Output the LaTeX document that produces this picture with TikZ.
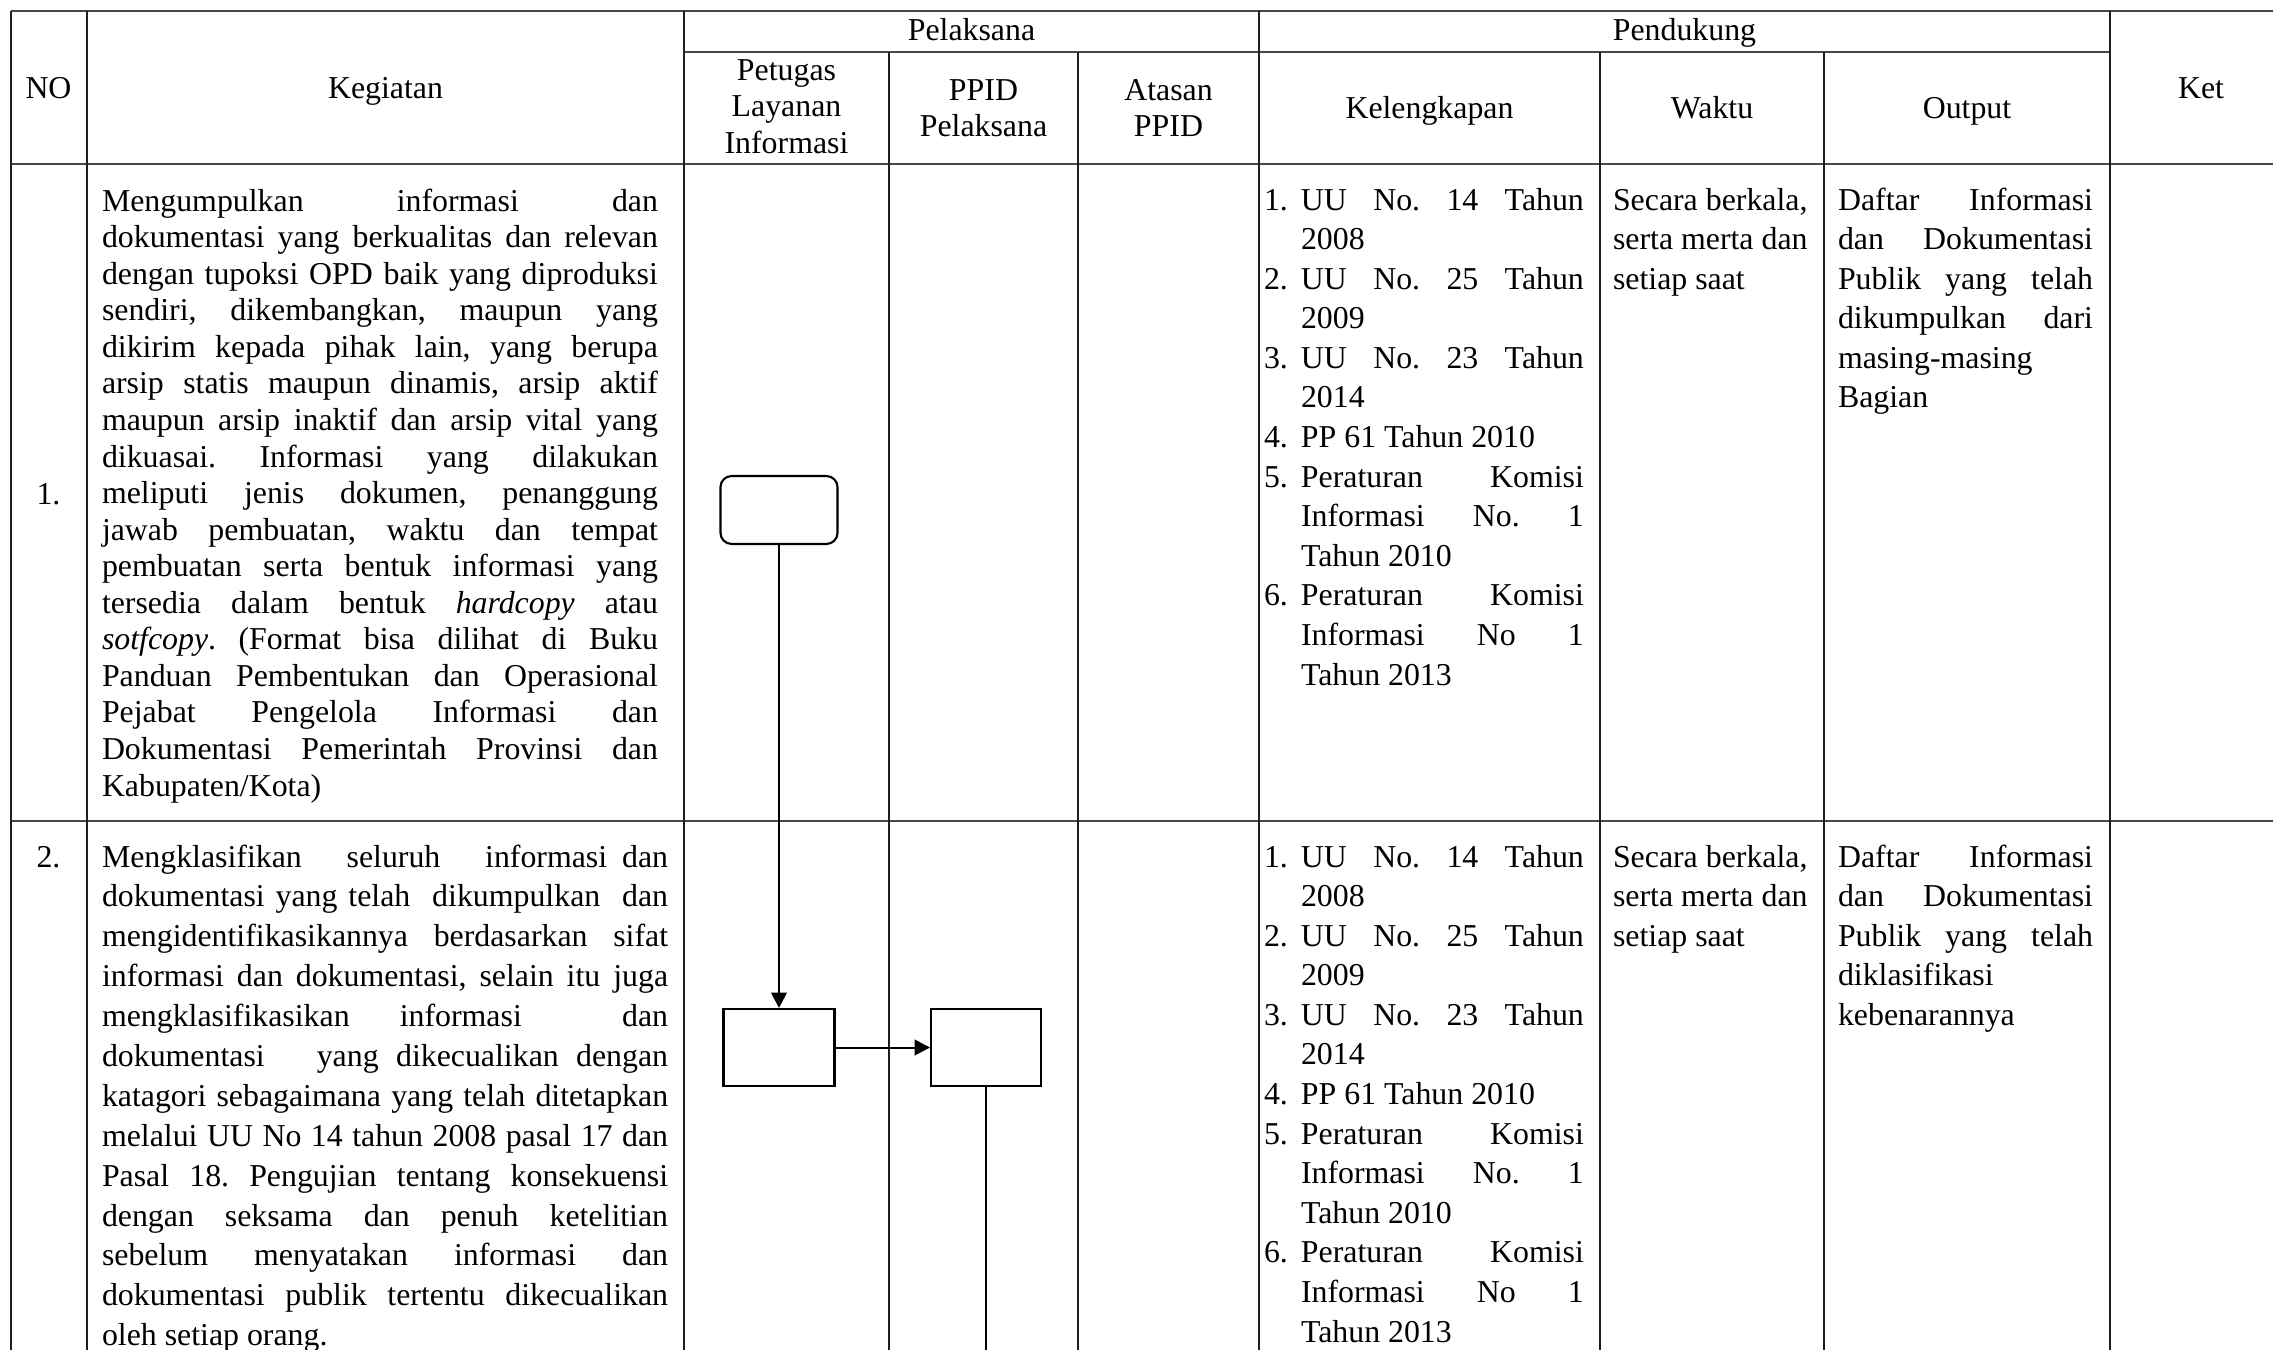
\documentclass[tikz,border=0pt]{standalone}
\usepackage{fontspec}
\setmainfont{Liberation Serif}[Ligatures={TeX,NoCommon}]
\usetikzlibrary{arrows.meta}
\newcommand\setsp{\spaceskip=0.25em plus 0.2em minus 0.08em\xspaceskip=0.25em plus 0.2em minus 0.08em\relax}
\newcommand\jline[1]{\makebox[\linewidth][s]{#1}}
\newcommand\kitem[2]{\makebox[13.94pt][l]{#1}\makebox[106.6pt][s]{#2}}
\newcommand\kplain[2]{\makebox[13.94pt][l]{#1}#2}
\newcommand\kcont[1]{\hspace*{13.94pt}#1}
\begin{document}
\begin{tikzpicture}[x=0.3768pt, y=-0.3768pt,
  hl/.style={draw=black!72, line width=0.7pt},
  vl/.style={draw=black!88, line width=0.45pt},
  txt/.style={inner sep=0pt, outer sep=0pt, text=black, font=\fontsize{12pt}{13.78pt}\selectfont\frenchspacing},
  hdr/.style={txt, anchor=base, align=center},
  body/.style={txt, anchor=base west, align=left},
  sp1/.style={font=\fontsize{12pt}{13.78pt}\selectfont\frenchspacing},
  sp2/.style={font=\fontsize{12pt}{14.92pt}\selectfont\frenchspacing},
  sp3/.style={font=\fontsize{12pt}{15.03pt}\selectfont\frenchspacing},
  flowbox/.style={draw=black, line width=0.8pt, inner sep=0pt, fill=white},
  arr/.style={draw=black, line width=0.75pt, -{Triangle[length=5.8pt,width=5.9pt]}}
]
\useasboundingbox (0,0) rectangle (2273,1350);
\fill[white] (0,0) rectangle (2273,1350);

% table rules
\draw[hl, line width=0.64pt] (11,11) -- (2273,11);
\draw[hl, line width=0.64pt] (684,52) -- (2110,52);
\draw[hl, line width=1.0pt] (11,164) -- (2273,164);
\draw[hl, line width=0.75pt] (11,821) -- (2273,821);
\foreach \xx in {11,87,684,1259,2110} \draw[vl] (\xx,11) -- (\xx,1350);
\foreach \xx in {889,1078,1600,1824} \draw[vl] (\xx,52) -- (\xx,1350);

% header
\node[hdr] (hNO) at (48.5,98) {NO};
\node[hdr] (hKeg) at (385.5,98) {Kegiatan};
\node[hdr] (hPel) at (971.5,40) {Pelaksana};
\node[hdr] (hPen) at (1684.5,40) {Pendukung};
\node[hdr] (hKet) at (2201,98) {Ket};
\node[hdr, text width=70pt] (hPet) at (786.5,80) {Petugas\\Layanan\\Informasi};
\node[hdr, text width=65pt] (hPP) at (983.5,100) {PPID\\Pelaksana};
\node[hdr, text width=60pt] (hAt) at (1168.5,100) {Atasan\\PPID};
\node[hdr] (hKel) at (1429.5,118) {Kelengkapan};
\node[hdr] (hWak) at (1712,118) {Waktu};
\node[hdr] (hOut) at (1967,118) {Output};

% row numbers
\node[hdr] (n1) at (48.5,504) {1.};
\node[hdr] (n2) at (48.5,867) {2.};

% row 1
\node[body, sp1, text width=209.5pt] (keg1) at (102,211) {\setsp
\jline{Mengumpulkan informasi dan}\\
\jline{dokumentasi yang berkualitas dan relevan}\\
\jline{dengan tupoksi OPD baik yang diproduksi}\\
\jline{sendiri, dikembangkan, maupun yang}\\
\jline{dikirim kepada pihak lain, yang berupa}\\
\jline{arsip statis maupun dinamis, arsip aktif}\\
\jline{maupun arsip inaktif dan arsip vital yang}\\
\jline{dikuasai. Informasi yang dilakukan}\\
\jline{meliputi jenis dokumen, penanggung}\\
\jline{jawab pembuatan, waktu dan tempat}\\
\jline{pembuatan serta bentuk informasi yang}\\
\jline{tersedia dalam bentuk \textit{hardcopy} atau}\\
\jline{\textit{sotfcopy}. (Format bisa dilihat di Buku}\\
\jline{Panduan Pembentukan dan Operasional}\\
\jline{Pejabat Pengelola Informasi dan}\\
\jline{Dokumentasi Pemerintah Provinsi dan}\\
Kabupaten/Kota)};

\node[body, sp2, text width=120.6pt] (kel1) at (1264,210) {\setsp
\kitem{1.}{UU No. 14 Tahun}\\
\kcont{2008}\\
\kitem{2.}{UU No. 25 Tahun}\\
\kcont{2009}\\
\kitem{3.}{UU No. 23 Tahun}\\
\kcont{2014}\\
\kplain{4.}{PP 61 Tahun 2010}\\
\kitem{5.}{Peraturan Komisi}\\
\kcont{\makebox[106.6pt][s]{Informasi No. 1}}\\
\kcont{Tahun 2010}\\
\kitem{6.}{Peraturan Komisi}\\
\kcont{\makebox[106.6pt][s]{Informasi No 1}}\\
\kcont{Tahun 2013}};

\node[body, sp2, text width=80pt] (wak1) at (1613,210) {\setsp Secara berkala,\\serta merta dan\\setiap saat};

\node[body, sp2, text width=96.1pt] (out1) at (1838,210) {\setsp
\jline{Daftar Informasi}\\
\jline{dan Dokumentasi}\\
\jline{Publik yang telah}\\
\jline{dikumpulkan dari}\\
masing-masing\\
Bagian};

% row 2
\node[body, sp3, text width=213.3pt] (keg2) at (102,867) {\setsp
\jline{Mengklasifikan\ \ \ seluruh\ \ \ informasi dan}\\
\jline{dokumentasi yang telah\ \ dikumpulkan\ \ dan}\\
\jline{mengidentifikasikannya berdasarkan sifat}\\
\jline{informasi dan dokumentasi, selain itu juga}\\
\jline{mengklasifikasikan informasi\ \ dan}\\
\jline{dokumentasi\ \ \ yang dikecualikan dengan}\\
\jline{katagori sebagaimana yang telah ditetapkan}\\
\jline{melalui UU No 14 tahun 2008 pasal 17 dan}\\
\jline{Pasal 18. Pengujian tentang konsekuensi}\\
\jline{dengan seksama dan penuh ketelitian}\\
\jline{sebelum menyatakan informasi dan}\\
\jline{dokumentasi publik tertentu dikecualikan}\\
oleh setiap orang.};

\node[body, sp2, text width=120.6pt] (kel2) at (1264,867) {\setsp
\kitem{1.}{UU No. 14 Tahun}\\
\kcont{2008}\\
\kitem{2.}{UU No. 25 Tahun}\\
\kcont{2009}\\
\kitem{3.}{UU No. 23 Tahun}\\
\kcont{2014}\\
\kplain{4.}{PP 61 Tahun 2010}\\
\kitem{5.}{Peraturan Komisi}\\
\kcont{\makebox[106.6pt][s]{Informasi No. 1}}\\
\kcont{Tahun 2010}\\
\kitem{6.}{Peraturan Komisi}\\
\kcont{\makebox[106.6pt][s]{Informasi No 1}}\\
\kcont{Tahun 2013}};

\node[body, sp2, text width=80pt] (wak2) at (1613,867) {\setsp Secara berkala,\\serta merta dan\\setiap saat};

\node[body, sp2, text width=96.1pt] (out2) at (1838,867) {\setsp
\jline{Daftar Informasi}\\
\jline{dan Dokumentasi}\\
\jline{Publik yang telah}\\
diklasifikasi\\
kebenarannya};

% flow chart
\node[flowbox, rounded corners=4.2pt, minimum width=44.1pt, minimum height=25.6pt] (s0) at (779,510) {};
\node[flowbox, minimum width=41.8pt, minimum height=29.0pt] (a1) at (779,1047.5) {};
\node[flowbox, minimum width=41.4pt, minimum height=29.0pt] (b1) at (986,1047.5) {};
\coordinate (bot) at (986,1350);
\draw[arr] (s0) -- (a1);
\draw[arr] (a1) -- (b1);
\draw[draw=black, line width=1.1pt] (b1) -- (bot);
\end{tikzpicture}
\end{document}
